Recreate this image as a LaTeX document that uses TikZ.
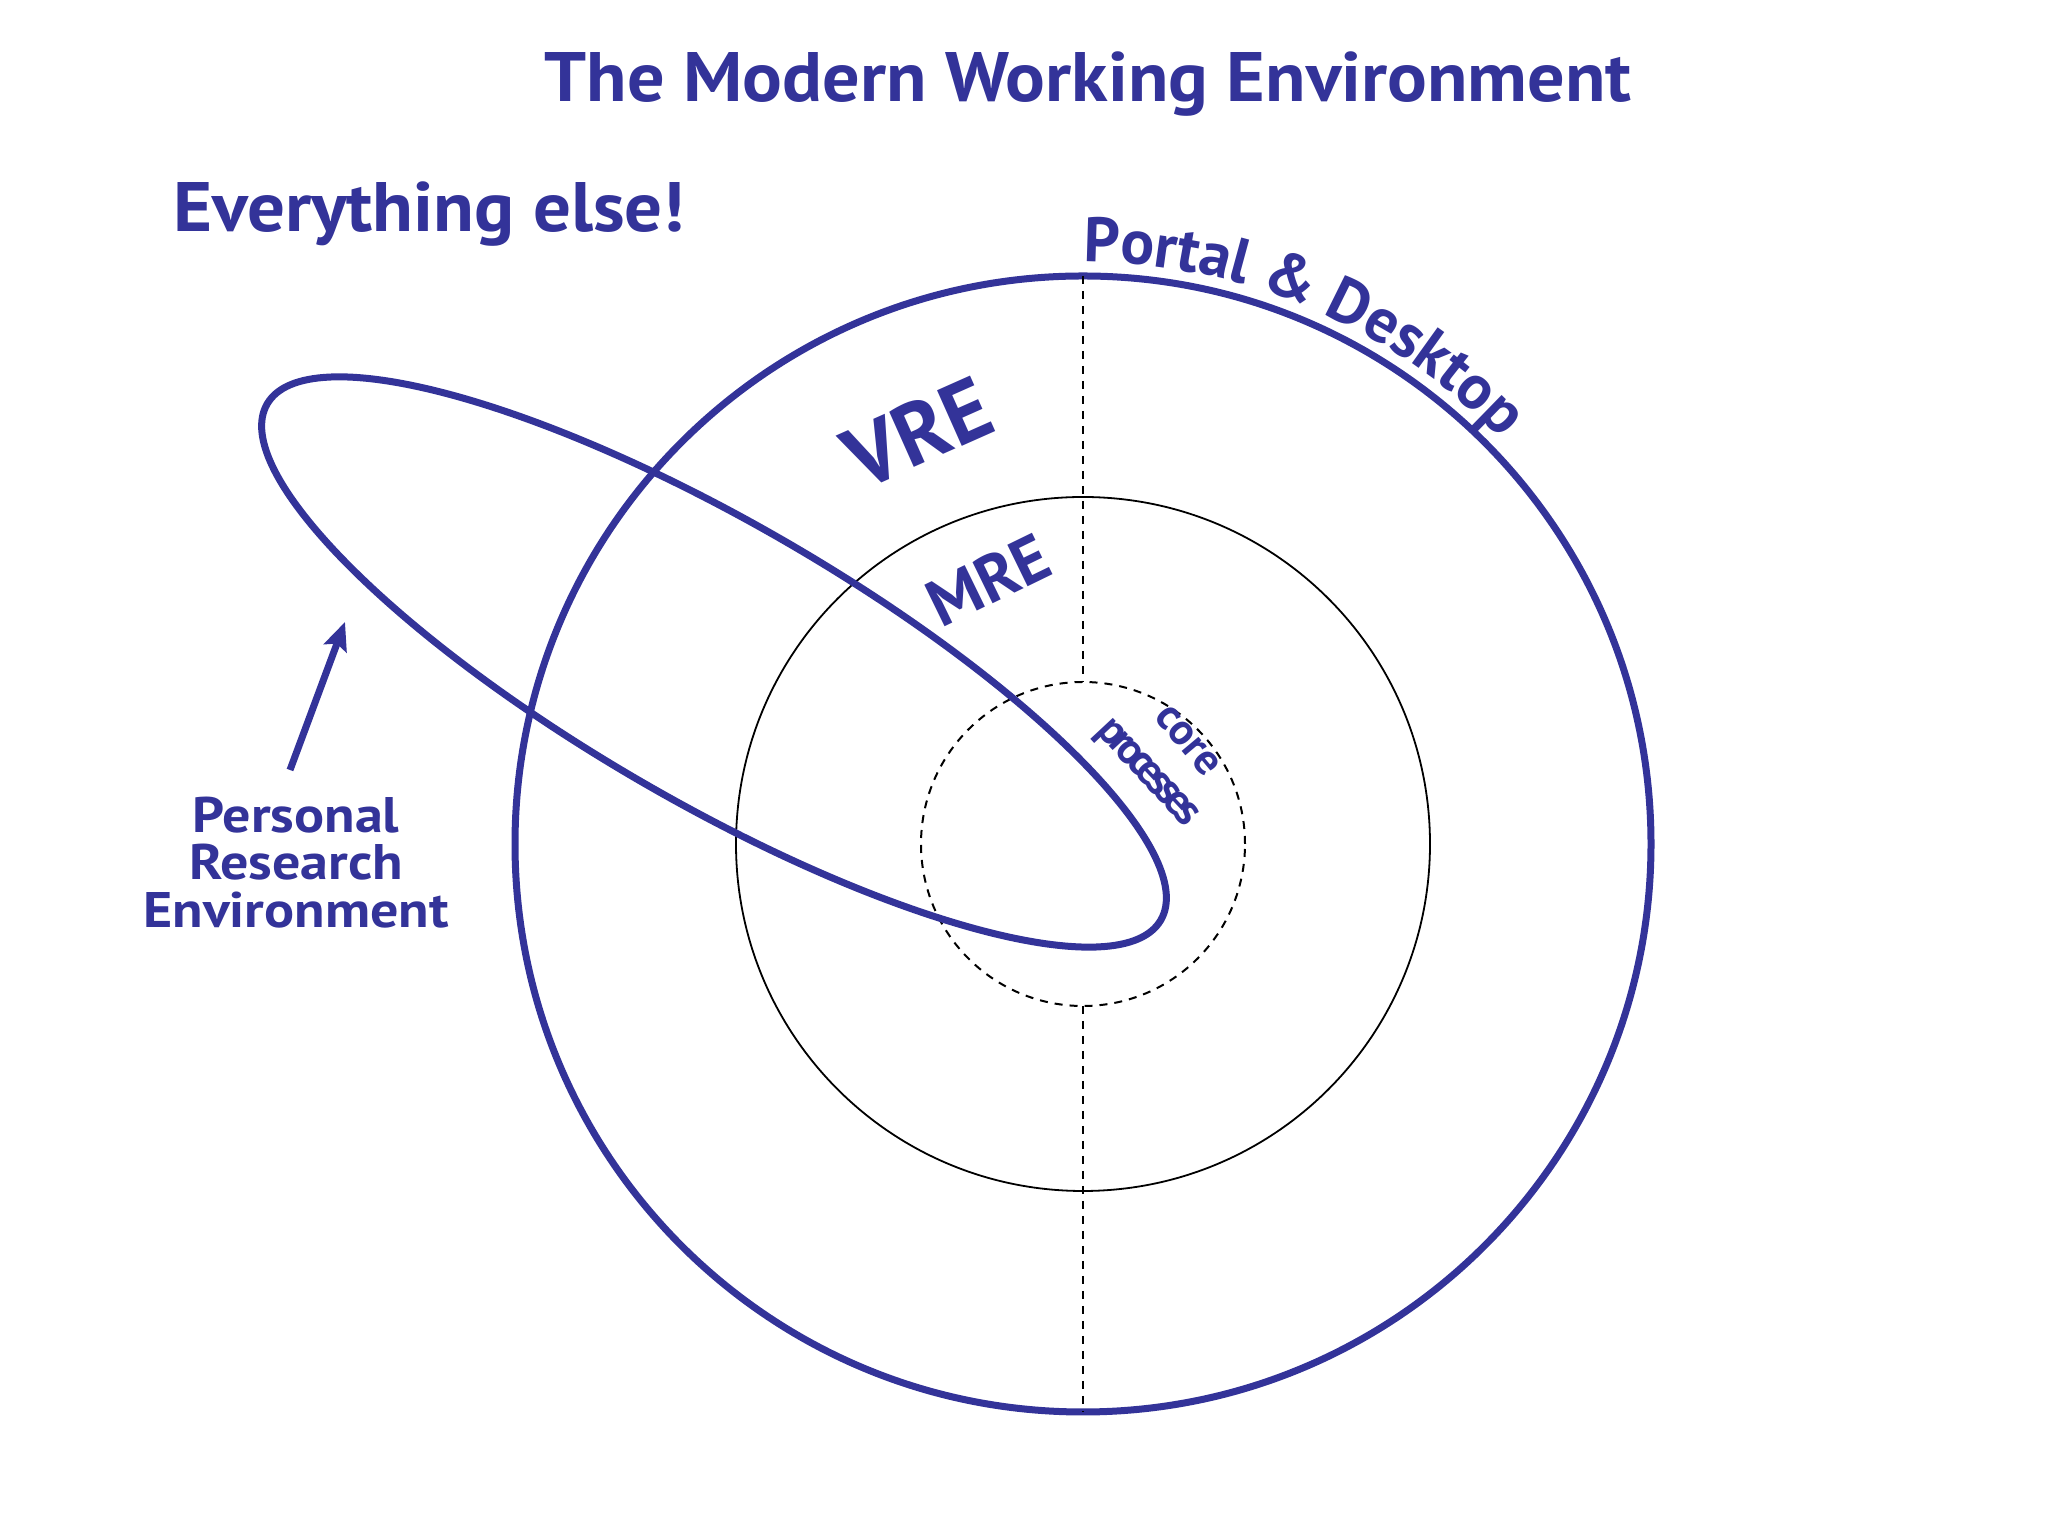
\documentclass[tikz,border=0pt]{standalone}
\usepackage{fontspec}
\setmainfont{PT Sans}
\usetikzlibrary{arrows.meta,decorations.text}
\definecolor{myblue}{RGB}{51,51,153}
\newcommand{\myfs}[1]{\fontsize{#1}{#1}\selectfont}
\begin{document}
\begin{tikzpicture}[x=1pt,y=1pt,
  bluetext/.style={text=myblue, inner sep=0pt, outer sep=0pt},
  ring/.style={circle, inner sep=0pt, outer sep=0pt},
  thickblue/.style={draw=myblue, line width=7pt},
  thinblack/.style={draw=black, line width=1.8pt},
  dashblack/.style={draw=black, line width=2pt, dash pattern=on 8pt off 7pt}]
\useasboundingbox[fill=white] (0,0) rectangle (2048,1536);
\coordinate (C) at (1083,692);
\node[ring, thickblue, minimum size=1136pt] (outer) at (C) {};
\node[ring, thinblack, minimum size=694pt] (middle) at (C) {};
\node[ring, dashblack, minimum size=324pt] (core) at (C) {};
\draw[dashblack] (outer.north) -- (core.north);
\draw[dashblack] (core.south) -- (outer.south);
\draw[thickblue, rotate around={-30:(714,874)}] (714,874) ellipse[x radius=516, y radius=140];
% texts
\node[bluetext, font=\bfseries\myfs{70}\addfontfeatures{FakeStretch=1.06}, anchor=base] (title) at (1088,1434) {The Modern Working Environment};
\node[bluetext, font=\bfseries\myfs{70}\addfontfeatures{FakeStretch=1.07}, anchor=base west] (else) at (173,1304) {Everything else!};
\node[bluetext, font=\bfseries\myfs{50}\addfontfeatures{FakeStretch=1.12}, anchor=base] (pre1) at (296,703) {Personal};
\node[bluetext, font=\bfseries\myfs{50}\addfontfeatures{FakeStretch=1.12}, anchor=base] (pre2) at (296,656) {Research};
\node[bluetext, font=\bfseries\myfs{50}\addfontfeatures{FakeStretch=1.12}, anchor=base] (pre3) at (296,608) {Environment};
\coordinate (arrtail) at (290,766);
\coordinate (arrtip) at (345,914);
\draw[myblue, line width=7pt, -{Stealth[length=28pt,width=24pt,inset=5pt]}] (arrtail) -- (arrtip);
\node[bluetext, font=\bfseries\myfs{87}, rotate=24] (vre) at (917.5,1103.5) {VRE};
\node[bluetext, font=\bfseries\myfs{66}, rotate=26] (mre) at (988.5,956) {MRE};
\node[bluetext, font=\bfseries\myfs{44}, rotate=-50, anchor=mid] (corelbl) at (1181,790) {core};
\node[bluetext, font=\bfseries\myfs{44}\addfontfeatures{LetterSpace=-14}, rotate=-47, anchor=mid] (proclbl) at (1142,758) {processes};
\path[decorate, decoration={text along path, text color=myblue,
   text={|\bfseries\myfs{63}|Portal {\&} Desktop}}]
   ([shift={(90:582)}]C) arc[start angle=90, end angle=10, radius=582];
\end{tikzpicture}
\end{document}
